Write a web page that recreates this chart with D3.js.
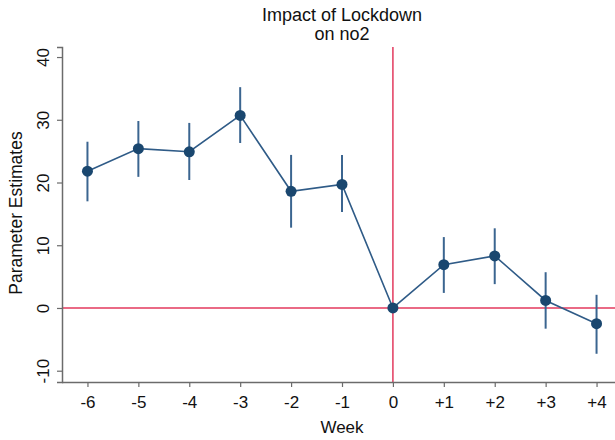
<!DOCTYPE html>
<html>
<head>
<meta charset="utf-8">
<script src="https://cdn.jsdelivr.net/npm/d3@7"></script>
<style>
  body { margin: 0; background: #fff; }
  text { font-family: "Liberation Sans", Arial, sans-serif; fill: #111; }
</style>
</head>
<body>
<div id="chart"></div>
<script>
// data
var weeks = [-6, -5, -4, -3, -2, -1, 0, 1, 2, 3, 4];
var weekLabels = ["-6", "-5", "-4", "-3", "-2", "-1", "0", "+1", "+2", "+3", "+4"];
var estimates = [21.8, 25.4, 24.9, 30.7, 18.6, 19.7, 0, 6.9, 8.3, 1.2, -2.5];
var ciLow = [17.0, 20.9, 20.4, 26.3, 12.8, 15.3, 0, 2.4, 3.8, -3.3, -7.3];
var ciHigh = [26.5, 29.8, 29.5, 35.2, 24.4, 24.4, 0, 11.3, 12.7, 5.7, 2.1];
var yTicks = [-10, 0, 10, 20, 30, 40];
var titleLines = ["Impact of Lockdown", "on no2"];

var width = 615;
var height = 440;
var margin = { top: 47, right: 0, bottom: 58, left: 62 };
var chartWidth = width - margin.left - margin.right;
var chartHeight = height - margin.top - margin.bottom;

var navy = "#1a476f";
var red = "#e3395d";
var axisGrey = "#6b6b6b";

var svg = d3.select("#chart").append("svg")
    .attr("width", width)
    .attr("height", height);

var chartGroup = svg.append("g")
    .attr("transform", `translate(${margin.left}, ${margin.top})`);

var data = weeks.map(function (w, i) {
    return { week: w, est: estimates[i], lo: ciLow[i], hi: ciHigh[i] };
});

// scales
var xScale = d3.scaleLinear()
    .domain([-6.5, 4.5])
    .range([0, 560]);

var yScale = d3.scaleLinear()
    .domain([-11.8, 41.6])
    .range([chartHeight, 0]);

// reference lines
chartGroup.append("line")
    .attr("x1", 0).attr("x2", chartWidth)
    .attr("y1", yScale(0)).attr("y2", yScale(0))
    .attr("stroke", red).attr("stroke-width", 1.5);

chartGroup.append("line")
    .attr("x1", xScale(0)).attr("x2", xScale(0))
    .attr("y1", 0).attr("y2", chartHeight)
    .attr("stroke", red).attr("stroke-width", 1.5);

// axes
var xAxis = d3.axisBottom(xScale)
    .tickValues(weeks)
    .tickFormat(function (d, i) { return weekLabels[i]; })
    .tickSizeOuter(0)
    .tickSize(5)
    .tickPadding(9);

var yAxis = d3.axisLeft(yScale)
    .tickValues(yTicks)
    .tickFormat(d => String(d))
    .tickSizeOuter(0)
    .tickSize(5);

var xG = chartGroup.append("g")
    .attr("transform", `translate(0, ${chartHeight})`)
    .call(xAxis);
xG.select(".domain").attr("d", `M0,0.5H${chartWidth}`);

var yG = chartGroup.append("g")
    .call(yAxis);

[xG, yG].forEach(function (g) {
    g.select(".domain").attr("stroke", axisGrey).attr("stroke-width", 1.5);
    g.selectAll(".tick line").attr("stroke", axisGrey).attr("stroke-width", 1.2);
    g.selectAll(".tick text").attr("font-size", "17px").attr("fill", "#111")
        .style("font-family", "'Liberation Sans', Arial, sans-serif");
});

// rotated y tick labels
yG.selectAll(".tick text")
    .attr("x", null).attr("dy", null)
    .attr("text-anchor", "middle")
    .attr("transform", "translate(-13, 0) rotate(-90)");

// confidence intervals
chartGroup.selectAll("line.ci")
    .data(data.filter(d => d.hi !== d.lo))
    .enter()
    .append("line")
    .attr("class", "ci")
    .attr("x1", d => xScale(d.week))
    .attr("x2", d => xScale(d.week))
    .attr("y1", d => yScale(d.lo))
    .attr("y2", d => yScale(d.hi))
    .attr("stroke", "#3b6590")
    .attr("stroke-width", 2);

// connecting line
var line = d3.line()
    .x(d => xScale(d.week))
    .y(d => yScale(d.est));

chartGroup.append("path")
    .datum(data)
    .attr("d", line)
    .attr("fill", "none")
    .attr("stroke", "#2f5b87")
    .attr("stroke-width", 1.6);

// markers
chartGroup.selectAll("circle")
    .data(data)
    .enter()
    .append("circle")
    .attr("cx", d => xScale(d.week))
    .attr("cy", d => yScale(d.est))
    .attr("r", 5.5)
    .attr("fill", navy);

// title, two separate lines
svg.selectAll("text.title")
    .data(titleLines)
    .enter()
    .append("text")
    .attr("class", "title")
    .attr("x", 342)
    .attr("y", (d, i) => 20.5 + i * 19)
    .attr("text-anchor", "middle")
    .attr("font-size", "18px")
    .text(d => d);

// axis labels
svg.append("text")
    .attr("transform", "translate(21.5, 213) rotate(-90)")
    .attr("text-anchor", "middle")
    .attr("font-size", "17.5px")
    .text("Parameter Estimates");

svg.append("text")
    .attr("x", 342)
    .attr("y", 433)
    .attr("text-anchor", "middle")
    .attr("font-size", "17px")
    .text("Week");
</script>
</body>
</html>
